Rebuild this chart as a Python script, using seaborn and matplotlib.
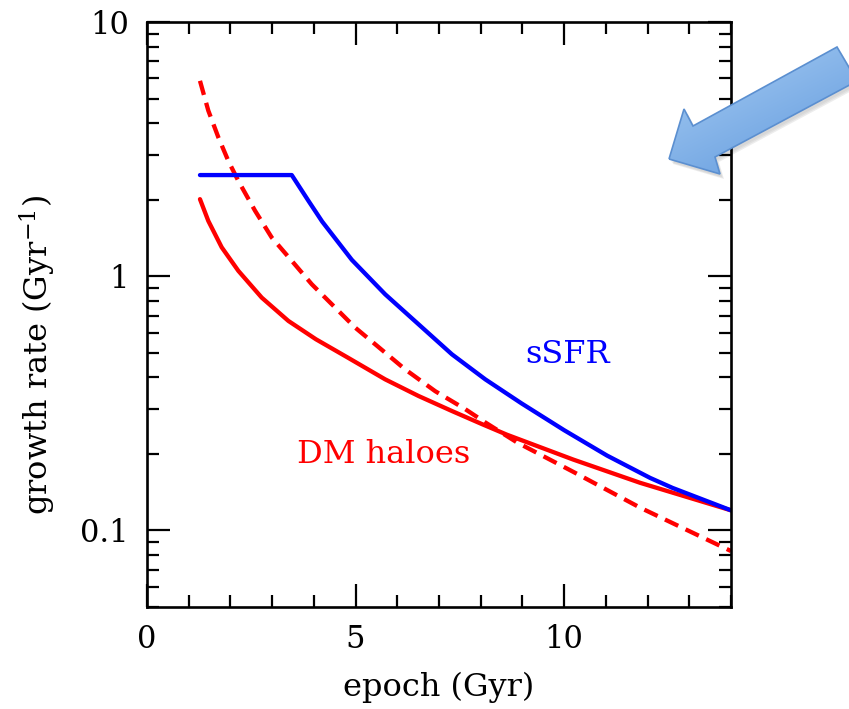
import numpy as np
import pandas as pd
import matplotlib
matplotlib.use("Agg")
import matplotlib.pyplot as plt
import seaborn as sns
from matplotlib.ticker import FixedLocator, MultipleLocator, LogLocator, NullFormatter, FixedFormatter
from matplotlib.patches import Polygon

# ---- data ----
ssfr_t = [1.27, 3.47, 3.87, 4.2, 4.91, 5.71, 6.51, 7.31, 8.11, 8.98,
          10.0, 11.03, 12.06, 12.6, 14.0]
ssfr = [2.5, 2.5, 1.98, 1.64, 1.16, 0.849, 0.647, 0.493, 0.393, 0.316,
        0.248, 0.197, 0.161, 0.147, 0.12]

dm_t = [1.27, 1.47, 1.79, 2.19, 2.75, 3.39, 4.05, 4.8, 5.71, 6.51, 7.31,
        8.03, 8.63, 10.22, 11.82, 14.0]
dm = [2.01, 1.65, 1.30, 1.05, 0.824, 0.667, 0.565, 0.48, 0.393, 0.338, 0.295,
      0.262, 0.238, 0.19, 0.154, 0.12]

dmacc_t = [1.27, 1.47, 1.71, 1.95, 2.19, 2.59, 2.99, 3.47, 3.95, 4.51, 4.99,
           5.47, 6.19, 6.91, 7.63, 8.11, 8.87, 10.22, 11.82, 14.0]
dmacc = [5.87, 4.48, 3.52, 2.84, 2.37, 1.81, 1.42, 1.15, 0.93, 0.753, 0.628,
         0.54, 0.43, 0.353, 0.30, 0.266, 0.222, 0.17, 0.123, 0.083]

xtick_vals = [0, 5, 10]
xtick_labels = ["0", "5", "10"]
ytick_vals = [0.1, 1, 10]
ytick_labels = ["0.1", "1", "10"]

sns.set_style("white")
plt.rcParams["font.family"] = ["DejaVu Serif"]
plt.rcParams["mathtext.fontset"] = "dejavuserif"
plt.rcParams["text.color"] = "black"
plt.rcParams["axes.labelcolor"] = "black"
plt.rcParams["xtick.color"] = "black"
plt.rcParams["ytick.color"] = "black"

fig = plt.figure(figsize=(8.49, 7.09), dpi=100)
ax = fig.add_axes([147 / 849, 102 / 709, 584 / 849, 585 / 709])

df_s = pd.DataFrame({"t": ssfr_t, "v": ssfr})
df_d = pd.DataFrame({"t": dm_t, "v": dm})
df_a = pd.DataFrame({"t": dmacc_t, "v": dmacc})

LW = 3.1
sns.lineplot(data=df_a, x="t", y="v", ax=ax, color="#ff0000", lw=LW,
             estimator=None, sort=False)
sns.lineplot(data=df_d, x="t", y="v", ax=ax, color="#ff0000", lw=LW,
             estimator=None, sort=False)
sns.lineplot(data=df_s, x="t", y="v", ax=ax, color="#0000ff", lw=LW,
             estimator=None, sort=False)
ax.lines[0].set_dashes((3.4, 1.9))
ax.lines[0].set_dash_capstyle("butt")
for ln in ax.lines:
    ln.set_solid_joinstyle("round")

ax.set_yscale("log")
ax.set_xlim(0, 14)
ax.set_ylim(0.05, 10)

ax.xaxis.set_major_locator(FixedLocator(xtick_vals))
ax.xaxis.set_major_formatter(FixedFormatter(xtick_labels))
ax.xaxis.set_minor_locator(MultipleLocator(1))
ax.yaxis.set_major_locator(FixedLocator(ytick_vals))
ax.yaxis.set_major_formatter(FixedFormatter(ytick_labels))
ax.yaxis.set_minor_locator(LogLocator(base=10, subs=np.arange(2, 10)))
ax.yaxis.set_minor_formatter(NullFormatter())

ax.tick_params(which="both", direction="in", top=True, right=True,
               bottom=True, left=True, width=1.6, color="black",
               labelcolor="black")
ax.tick_params(which="major", length=16.5, labelsize=22, pad=12)
ax.tick_params(which="minor", length=8.5)
ax.tick_params(axis="y", which="major", pad=13)
for s in ax.spines.values():
    s.set_linewidth(1.9)
    s.set_color("black")

ax.set_xlabel("epoch (Gyr)", fontsize=23, color="black")
ax.set_ylabel(r"growth rate (Gyr$^{-1}$)", fontsize=23, color="black")
ax.xaxis.label.set_va("center")
ax.yaxis.label.set_va("center")
ax.xaxis.set_label_coords(0.5, -0.138)
ax.yaxis.set_label_coords(-0.187, 0.43)

ax.text(10.07, 0.49, "sSFR", color="#0000ff", fontsize=23, ha="center", va="center")
ax.text(5.68, 0.199, "DM haloes", color="#ff0000", fontsize=23, ha="center", va="center")

# ---- decorative blue arrow (figure pixel coordinates) ----
ov = fig.add_axes([0, 0, 1, 1], zorder=5)
ov.set_xlim(0, 849)
ov.set_ylim(709, 0)
ov.axis("off")
ov.patch.set_alpha(0)

arrow_pts = np.array([[669, 159], [684, 109], [693, 126], [837, 47],
                      [857, 81], [715, 157], [720, 174]])
for k, a in enumerate([0.04, 0.05, 0.07]):
    off = np.array([2 + k, 3 + k])
    ov.add_patch(Polygon(arrow_pts + off, closed=True, facecolor="black",
                         edgecolor="none", alpha=a))
poly = Polygon(arrow_pts, closed=True, facecolor="none",
               edgecolor="#5b8fd0", lw=1.2, zorder=3)
ov.add_patch(poly)
Y, X = np.mgrid[40:182, 660:862]
t = ((X - 660) * 0.45 + (Y - 40) * 0.9)
t = (t - t.min()) / (t.max() - t.min())
c0 = np.array([0.68, 0.82, 0.96])
c1 = np.array([0.35, 0.58, 0.86])
img = c0 + (c1 - c0) * t[..., None]
im = ov.imshow(img, extent=(660, 862, 182, 40), origin="upper",
               aspect="auto", zorder=2)
im.set_clip_path(poly)
ov.set_xlim(0, 849)
ov.set_ylim(709, 0)

fig.savefig("out.png", dpi=100)
